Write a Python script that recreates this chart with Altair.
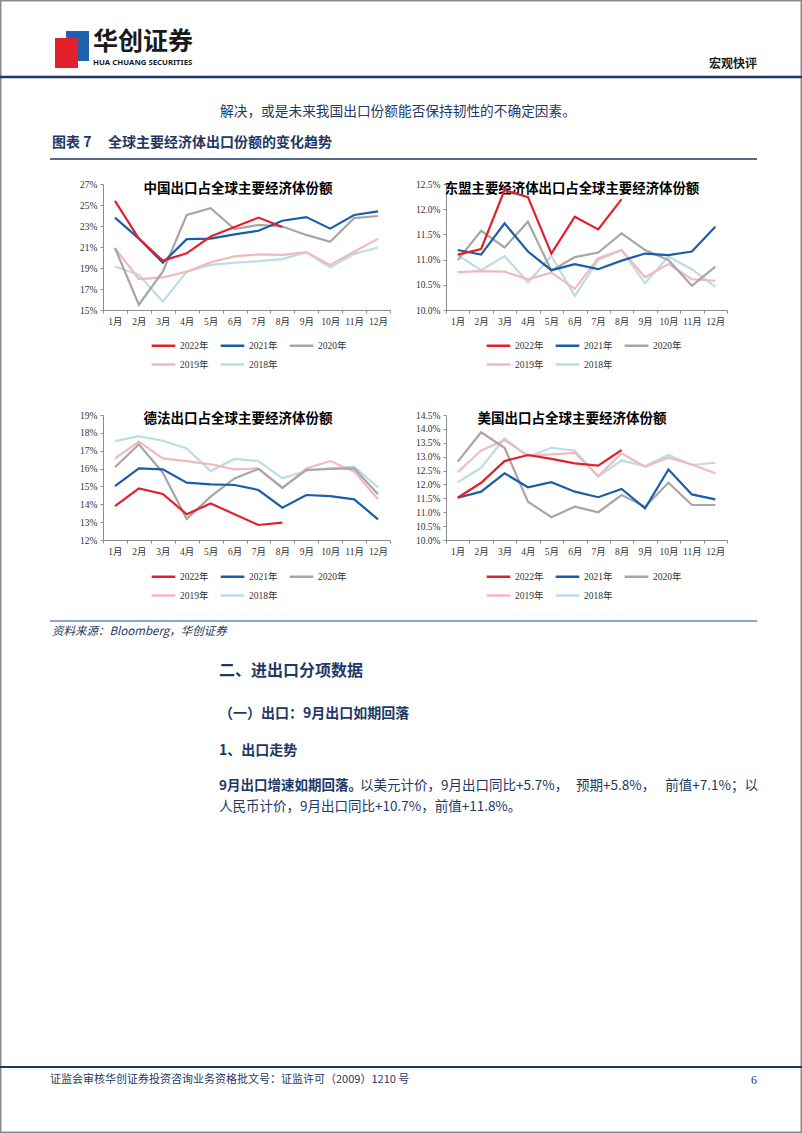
import altair as alt
import pandas as pd

PAGE_W, PAGE_H = 802, 1133

MONTHS = ["1月", "2月", "3月", "4月", "5月", "6月", "7月", "8月", "9月", "10月", "11月", "12月"]
SERIES = ["2022年", "2021年", "2020年", "2019年", "2018年"]
SERIES_COLORS = ["#E3202A", "#1B5DA8", "#A6A6A6", "#F3B9B9", "#B9DDE9"]

# 中国出口占全球主要经济体份额 (%)
cn_2022 = [25.4, 21.8, 19.7, 20.4, 22.0, 22.9, 23.8, 22.9]
cn_2021 = [23.8, 21.8, 19.5, 21.75, 21.8, 22.2, 22.55, 23.5, 23.85, 22.75, 24.05, 24.4]
cn_2020 = [20.9, 15.5, 18.65, 24.05, 24.7, 22.7, 23.1, 22.95, 22.15, 21.5, 23.75, 23.95]
cn_2019 = [20.9, 17.95, 18.1, 18.65, 19.55, 20.1, 20.3, 20.25, 20.5, 19.3, 20.55, 21.8]
cn_2018 = [19.15, 18.35, 15.8, 18.65, 19.3, 19.5, 19.65, 19.85, 20.5, 19.05, 20.35, 20.95]

# 东盟主要经济体出口占全球主要经济体份额 (%)
as_2022 = [11.1, 11.21, 12.38, 12.24, 11.12, 11.85, 11.6, 12.2]
as_2021 = [11.19, 11.1, 11.72, 11.16, 10.79, 10.91, 10.81, 10.98, 11.12, 11.09, 11.16, 11.65]
as_2020 = [10.99, 11.57, 11.24, 11.75, 10.78, 11.05, 11.14, 11.52, 11.19, 10.99, 10.48, 10.86]
as_2019 = [10.75, 10.77, 10.76, 10.61, 10.74, 10.42, 11.03, 11.19, 10.65, 10.91, 10.61, 10.58]
as_2018 = [11.09, 10.79, 11.07, 10.55, 11.07, 10.28, 10.99, 11.19, 10.53, 11.06, 10.81, 10.46]

# 德法出口占全球主要经济体份额 (%)
de_2022 = [13.9, 14.89, 14.58, 13.44, 14.05, 13.44, 12.84, 12.97]
de_2021 = [15.02, 16.01, 15.96, 15.21, 15.12, 15.08, 14.8, 13.81, 14.52, 14.46, 14.28, 13.16]
de_2020 = [16.07, 17.36, 15.77, 13.18, 14.43, 15.45, 15.98, 14.93, 15.92, 15.98, 16.01, 14.56]
de_2019 = [16.57, 17.51, 16.57, 16.42, 16.24, 15.96, 16.01, 14.89, 16.01, 16.42, 15.83, 14.28]
de_2018 = [17.54, 17.82, 17.56, 17.13, 15.86, 16.54, 16.42, 15.45, 15.88, 16.01, 16.11, 14.95]

# 美国出口占全球主要经济体份额 (%)
us_2022 = [11.52, 12.06, 12.84, 13.06, 12.92, 12.76, 12.68, 13.24]
us_2021 = [11.52, 11.74, 12.4, 11.9, 12.08, 11.74, 11.54, 11.84, 11.14, 12.54, 11.64, 11.46]
us_2020 = [12.82, 13.88, 13.32, 11.38, 10.82, 11.2, 11.0, 11.62, 11.2, 12.06, 11.26, 11.26]
us_2019 = [12.44, 13.22, 13.6, 13.04, 13.08, 13.14, 12.3, 13.12, 12.64, 12.96, 12.72, 12.4]
us_2018 = [12.08, 12.6, 13.66, 13.0, 13.32, 13.22, 12.28, 12.86, 12.66, 13.06, 12.7, 12.78]

CN_TICKS = [15, 17, 19, 21, 23, 25, 27]
AS_TICKS = [10.0, 10.5, 11.0, 11.5, 12.0, 12.5]
DE_TICKS = [12, 13, 14, 15, 16, 17, 18, 19]
US_TICKS = [10.0, 10.5, 11.0, 11.5, 12.0, 12.5, 13.0, 13.5, 14.0, 14.5]

TITLES = [
    "中国出口占全球主要经济体份额",
    "东盟主要经济体出口占全球主要经济体份额",
    "德法出口占全球主要经济体份额",
    "美国出口占全球主要经济体份额",
]

NAVY = "#1F3864"
CJK = "Noto Sans CJK SC"
SERIF = "Liberation Serif, Noto Sans CJK SC"


def long_df(lists):
    rows = []
    # draw older years first so 2022 ends on top
    for name, vals in reversed(list(zip(SERIES, lists))):
        for m, v in zip(MONTHS, vals):
            rows.append({"month": m, "series": name, "value": v})
    return pd.DataFrame(rows)


def panel(df, x0, x1, ybot, ytop, ydom, yticks, decimals, lx, ly):
    label_expr = f"format(datum.value, '.{decimals}f') + '%'"
    return alt.Chart(df).mark_line(strokeWidth=2.2).encode(
        x=alt.X(
            "month:N", sort=MONTHS, bandPosition=0.5,
            scale=alt.Scale(type="band", domain=MONTHS, range=[x0, x1],
                            paddingInner=0, paddingOuter=0),
            axis=alt.Axis(orient="bottom", offset=ybot - PAGE_H, title=None,
                          tickBand="extent", labelAngle=0, grid=False,
                          domainColor="#8c8c8c", tickColor="#8c8c8c", tickSize=3,
                          labelFont=SERIF, labelFontSize=9.5, labelColor="#333333",
                          labelPadding=3),
        ),
        y=alt.Y(
            "value:Q",
            scale=alt.Scale(domain=ydom, range=[ybot, ytop], nice=False, zero=False),
            axis=alt.Axis(orient="left", offset=-x0, values=yticks, labelExpr=label_expr,
                          title=None, grid=False, domainColor="#8c8c8c",
                          tickColor="#8c8c8c", tickSize=3, labelFont=SERIF,
                          labelFontSize=9.5, labelColor="#333333", labelPadding=3,
                          labelOverlap=False),
        ),
        color=alt.Color(
            "series:N",
            scale=alt.Scale(domain=SERIES, range=SERIES_COLORS),
            legend=alt.Legend(orient="none", legendX=lx, legendY=ly, columns=3,
                              direction="horizontal", title=None, symbolType="stroke",
                              symbolSize=560, symbolStrokeWidth=2.5, labelFont=SERIF,
                              labelFontSize=9.5, labelColor="#333333", labelOffset=3,
                              columnPadding=6, rowPadding=-9, padding=0),
        ),
    )


blank = pd.DataFrame({"k": [0]})


def txt(s, x, y, size, color="#000000", weight="normal", align="left", font=CJK, style="normal"):
    return alt.Chart(pd.DataFrame({"t": [s]})).mark_text(
        fontSize=size, color=color, fontWeight=weight, align=align, baseline="middle",
        font=font, fontStyle=style,
    ).encode(text="t:N", x=alt.value(x), y=alt.value(y))


def hrule(x0, x1, y, color, width):
    return alt.Chart(blank).mark_rule(color=color, strokeWidth=width).encode(
        x=alt.value(x0), x2=alt.value(x1), y=alt.value(y))


def box(x0, x1, y0, y1, color):
    return alt.Chart(blank).mark_rect(color=color).encode(
        x=alt.value(x0), x2=alt.value(x1), y=alt.value(y0), y2=alt.value(y1))


border = alt.Chart(blank).mark_rect(fillOpacity=0, stroke="#8a8a8a", strokeWidth=1.5).encode(
    x=alt.value(0.75), x2=alt.value(PAGE_W - 0.75), y=alt.value(0.75), y2=alt.value(PAGE_H - 0.75))

decor = [
    border,
    box(66, 89, 31, 61, "#1F5FAD"),
    box(55, 78, 38, 68, "#E3202A"),
    txt("华创证券", 93, 42, 25, "#1a1a1a", "bold"),
    txt("HUA CHUANG SECURITIES", 93, 63, 7.8, "#1a1a1a", "bold", font="Noto Sans"),
    txt("宏观快评", 757, 64, 12, "#1a1a1a", "bold", align="right"),
    hrule(0, PAGE_W, 77, NAVY, 2.5),
    txt("解决，或是未来我国出口份额能否保持韧性的不确定因素。", 220, 112, 13.7, NAVY),
    txt("图表 7", 52, 143, 14, NAVY, "bold"),
    txt("全球主要经济体出口份额的变化趋势", 108, 143, 14, NAVY, "bold"),
    hrule(50, 757, 159, NAVY, 1.5),
    txt(TITLES[0], 238, 189, 13.5, "#000000", "bold", align="center"),
    txt(TITLES[1], 572, 189, 13.4, "#000000", "bold", align="center"),
    txt(TITLES[2], 238, 419, 13.5, "#000000", "bold", align="center"),
    txt(TITLES[3], 572, 419, 13.5, "#000000", "bold", align="center"),
    hrule(50, 757, 621, "#6A87BA", 1.5),
    txt("资料来源：Bloomberg，华创证券", 52, 632, 11.5, NAVY, style="italic"),
    txt("二、进出口分项数据", 219, 671, 16, NAVY, "bold"),
    txt("（一）出口：9月出口如期回落", 219, 714, 14, NAVY, "bold"),
    txt("1、出口走势", 219, 751, 14, NAVY, "bold"),
    txt("9月出口增速如期回落。", 219, 786, 13.5, NAVY, "bold"),
    txt("以美元计价，9月出口同比+5.7%，", 360, 786, 13.5, NAVY),
    txt("预期+5.8%，", 576, 786, 13.5, NAVY),
    txt("前值+7.1%；以", 758, 786, 13.5, NAVY, align="right"),
    txt("人民币计价，9月出口同比+10.7%，前值+11.8%。", 219, 807, 13.5, NAVY),
    hrule(0, PAGE_W, 1067, NAVY, 2),
    txt("证监会审核华创证券投资咨询业务资格批文号：证监许可（2009）1210 号", 50, 1080, 11, NAVY),
    txt("6", 757, 1080, 12, NAVY, align="right", font=SERIF),
]

panels = [
    panel(long_df([cn_2022, cn_2021, cn_2020, cn_2019, cn_2018]), 103, 390, 310, 184,
          [15, 27], CN_TICKS, 0, 150, 332),
    panel(long_df([as_2022, as_2021, as_2020, as_2019, as_2018]), 446, 727, 310, 184,
          [10, 12.5], AS_TICKS, 1, 485, 332),
    panel(long_df([de_2022, de_2021, de_2020, de_2019, de_2018]), 103, 390, 540, 415,
          [12, 19], DE_TICKS, 0, 150, 563),
    panel(long_df([us_2022, us_2021, us_2020, us_2019, us_2018]), 446, 727, 540, 415,
          [10, 14.5], US_TICKS, 1, 485, 563),
]

chart = alt.layer(*decor, *panels).resolve_scale(
    x="independent", y="independent", color="independent"
).resolve_axis(
    x="independent", y="independent"
).resolve_legend(
    color="independent"
).properties(
    width=PAGE_W, height=PAGE_H, padding=0,
    autosize=alt.AutoSizeParams(type="none"), background="white",
).configure_view(strokeWidth=0)

chart.save("out.html", embed_options={"renderer": "svg", "actions": False})
